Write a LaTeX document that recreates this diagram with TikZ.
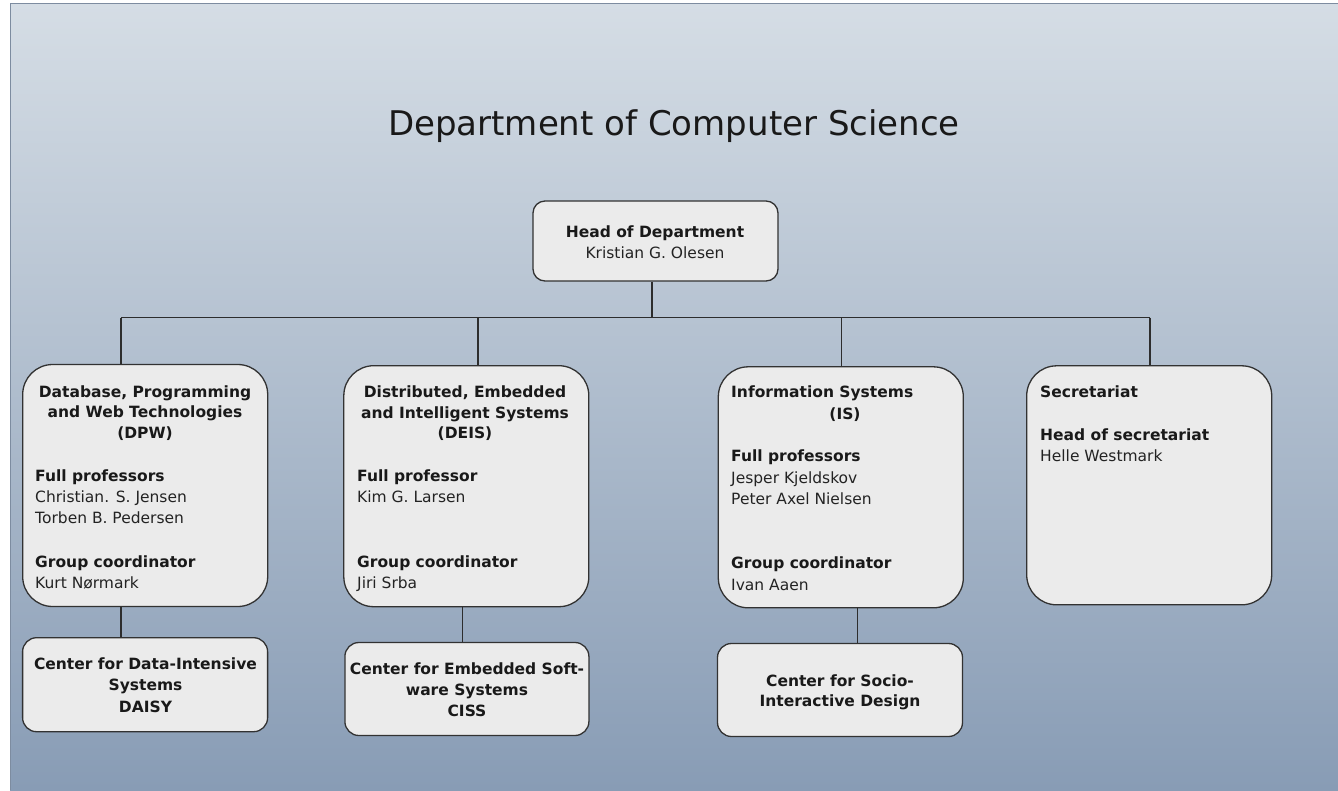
\documentclass[tikz,border=0pt]{standalone}
\usepackage{fontspec}
\setmainfont{DejaVu Sans}
\definecolor{bgtop}{RGB}{213,221,229}
\definecolor{bgbot}{RGB}{136,156,181}
\definecolor{bgedge}{RGB}{125,140,160}
\definecolor{boxfill}{RGB}{235,235,235}
\definecolor{boxline}{RGB}{50,50,50}
\definecolor{linecol}{RGB}{45,45,45}
\definecolor{txtcol}{RGB}{35,35,35}
\tikzset{
  box/.style={draw=boxline, fill=boxfill, line width=1.3pt, rounded corners=30pt, inner sep=0pt},
  cbox/.style={box, rounded corners=14pt},
  conn/.style={draw=linecol, line width=1.2pt},
  tl/.style={font=\fontsize{15.5}{21}\selectfont, text=txtcol, inner sep=0pt, anchor=base west},
  tb/.style={font=\fontsize{15.5}{21}\selectfont\bfseries, text=black!90, inner sep=0pt, anchor=base west},
  tc/.style={tb, anchor=base},
}
\begin{document}
\begin{tikzpicture}[x=1pt,y=-1pt]
\useasboundingbox (0,0) rectangle (1338,790);
% background
\shade[top color=bgtop, bottom color=bgbot] (10,3) rectangle (1338,790);
\draw[bgedge, line width=1.5pt] (10.5,790) -- (10.5,3.5) -- (1338,3.5);
% title
\node[font=\fontsize{34}{40}\selectfont, anchor=base, inner sep=0pt, text=black!90] (title) at (674,135) {Department of Computer Science};

% boxes
\node[box, rounded corners=12pt, minimum width=245pt, minimum height=80pt] (head) at (655.5,241) {};
\node[box, minimum width=245pt, minimum height=242pt] (dpw) at (145.2,485.5) {};
\node[box, minimum width=245pt, minimum height=241pt] (deis) at (466.3,486.2) {};
\node[box, minimum width=245pt, minimum height=241pt] (is) at (840.8,487.3) {};
\node[box, minimum width=245pt, minimum height=239pt] (sec) at (1149.2,485.3) {};
\node[cbox, minimum width=245pt, minimum height=94pt] (daisy) at (145.1,684.7) {};
\node[cbox, minimum width=244pt, minimum height=93pt] (ciss) at (466.9,689) {};
\node[cbox, minimum width=245pt, minimum height=93pt] (socio) at (840,690) {};

% connectors
\coordinate (d1) at (121,317.5);
\coordinate (d2) at (478,317.5);
\coordinate (d3) at (841.5,317.5);
\coordinate (d4) at (1150,317.5);
\coordinate (c1) at (121,620);
\coordinate (c2) at (462.8,620);
\coordinate (c3) at (857.3,620);
\coordinate (hx) at (652,290);
\draw[conn] (d1) -- (d4);
\draw[conn] (hx |- head.south) -- (hx |- d1);
\draw[conn] (d1) -- (d1 |- dpw.north);
\draw[conn] (d2) -- (d2 |- deis.north);
\draw[conn] (d3) -- (d3 |- is.north);
\draw[conn] (d4) -- (d4 |- sec.north);
\draw[conn] (c1 |- dpw.south) -- (c1 |- daisy.north);
\draw[conn] (c2 |- deis.south) -- (c2 |- ciss.north);
\draw[conn] (c3 |- is.south) -- (c3 |- socio.north);

% head text
\node[tc] (h1) at (655,237) {Head of Department};
\node[tl, anchor=base] (h2) at (655,258) {Kristian G. Olesen};

% DPW
\node[tc] (p1) at (145,397) {Database, Programming};
\node[tc] (p2) at (145,417.5) {and Web Technologies};
\node[tc] (p3) at (145,438) {(DPW)};
\node[tb] (p4) at (35,481) {Full professors};
\node[tl] (p5) at (35,502) {Christian. S. Jensen};
\node[tl] (p6) at (35,523) {Torben B. Pedersen};
\node[tb] (p7) at (35,567) {Group coordinator};
\node[tl] (p8) at (35,588) {Kurt Nørmark};

% DEIS
\node[tc] (e1) at (465,397) {Distributed, Embedded};
\node[tc] (e2) at (465,418) {and Intelligent Systems};
\node[tc] (e3) at (465,438.5) {(DEIS)};
\node[tb] (e4) at (357,481) {Full professor};
\node[tl] (e5) at (357,502) {Kim G. Larsen};
\node[tb] (e7) at (357,567) {Group coordinator};
\node[tl] (e8) at (357,588) {Jiri Srba};

% IS
\node[tb] (i1) at (731,397) {Information Systems};
\node[tc] (i2) at (845,419) {(IS)};
\node[tb] (i4) at (731,461.5) {Full professors};
\node[tl] (i5) at (731,483) {Jesper Kjeldskov};
\node[tl] (i6) at (731,504) {Peter Axel Nielsen};
\node[tb] (i7) at (731,568.5) {Group coordinator};
\node[tl] (i8) at (731,590) {Ivan Aaen};

% Secretariat
\node[tb] (s1) at (1040,397) {Secretariat};
\node[tb] (s2) at (1040,440) {Head of secretariat};
\node[tl] (s3) at (1040,461.5) {Helle Westmark};

% centers
\node[tc] (a1) at (145.5,669) {Center for Data-Intensive};
\node[tc] (a2) at (145.5,690.5) {Systems};
\node[tc] (a3) at (145.5,712) {DAISY};
\node[tc] (b1) at (467,674) {Center for Embedded Soft-};
\node[tc] (b2) at (467,695) {ware Systems};
\node[tc] (b3) at (467,716.5) {CISS};
\node[tc] (f1) at (840,686) {Center for Socio-};
\node[tc] (f2) at (840,706.5) {Interactive Design};
\end{tikzpicture}
\end{document}
